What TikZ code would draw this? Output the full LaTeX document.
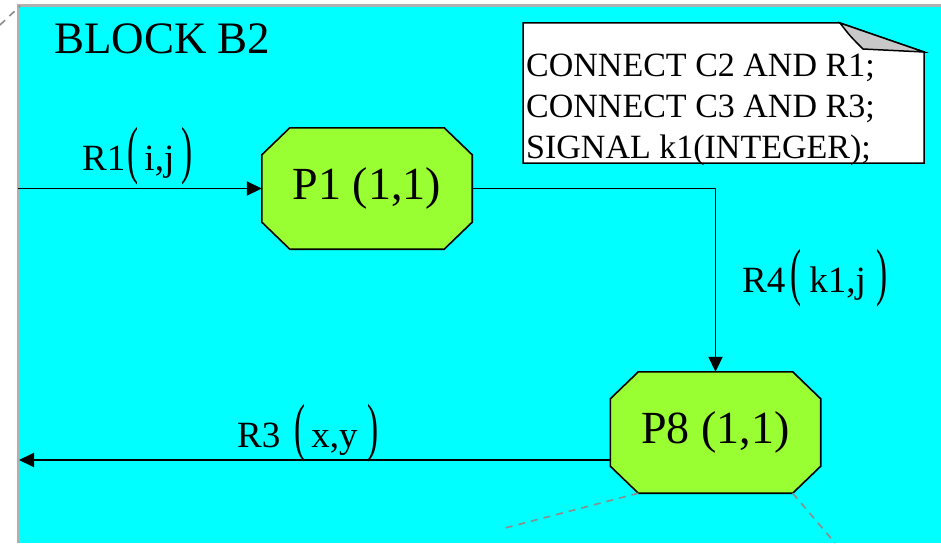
\documentclass[tikz,border=0pt]{standalone}
\usepackage{fontspec}
\setmainfont{Liberation Serif}
\usepackage{graphicx}
\usetikzlibrary{arrows.meta,calc}
\definecolor{bgcyan}{RGB}{0,255,255}
\definecolor{procgreen}{RGB}{153,255,51}
\definecolor{framegray}{RGB}{176,176,176}
\definecolor{dashgray}{RGB}{140,140,140}
\definecolor{foldgray}{RGB}{200,200,200}
\pgfdeclarelayer{bgl}
\pgfsetlayers{bgl,main}
\newcommand{\tallp}[1]{\raisebox{-1.5pt}{\scalebox{0.9}[1.72]{#1}}}
\newcommand{\octagon}[1]{%
  \begin{pgfonlayer}{bgl}
  \filldraw[octa] ($(#1.north west)+(28,0)$) -- ($(#1.north east)+(-28,0)$) -- ($(#1.north east)+(0,27)$)
    -- ($(#1.south east)+(0,-27)$) -- ($(#1.south east)+(-28,0)$) -- ($(#1.south west)+(28,0)$)
    -- ($(#1.south west)+(0,-27)$) -- ($(#1.north west)+(0,27)$) -- cycle;
  \end{pgfonlayer}}
\tikzset{
  proc/.style={rectangle, minimum width=210pt, minimum height=121pt,
    inner sep=0pt, font=\fontsize{46}{50}\selectfont},
  octa/.style={draw=black, line width=1.6pt, fill=procgreen},
  notetxt/.style={anchor=base west, inner sep=0pt, font=\fontsize{34}{40}\selectfont},
  lbl/.style={anchor=base west, inner sep=0pt, font=\fontsize{37}{40}\selectfont},
  flow/.style={line width=1.9pt, -{Triangle[length=15pt,width=14pt]}},
  callout/.style={dashgray, line width=1.6pt, dash pattern=on 7pt off 6pt}
}
\begin{document}
\begin{tikzpicture}[x=1pt,y=-1pt]
\useasboundingbox (0,0) rectangle (941,543);
% background
\begin{pgfonlayer}{bgl}
\fill[bgcyan] (18,5) rectangle (941,543);
\draw[framegray, line width=2.6pt] (18,543) -- (18,5.5) -- (941,5.5);
\end{pgfonlayer}
% top-left callout
\coordinate (tl0) at (0,25);
\coordinate (tl1) at (20,6);
\draw[callout] (tl0) -- (tl1);
% title
\node[anchor=base west, inner sep=0pt, font=\fontsize{45}{50}\selectfont] (title) at (54,53) {BLOCK B2};
% note
\draw[fill=white, line width=1.5pt] (523,23) -- (840,23) -- (924,52) -- (924,163) -- (523,163) -- cycle;
\draw[fill=foldgray, line width=1.5pt] (840,23) .. controls (850,36) .. (863,49) -- (924,52) -- cycle;
\node[notetxt] (n1) at (526,76) {CONNECT C2 AND R1;};
\node[notetxt] (n2) at (526,117) {CONNECT C3 AND R3;};
\node[notetxt] (n3) at (526,158) {SIGNAL k1(INTEGER);};
% processes
\node[proc] (P1) at (367,188.5) {P1 (1,1)};
\octagon{P1}
\node[proc] (P8) at (715.5,432.5) {P8 (1,1)};
\octagon{P8}
% callout lines from P8
\coordinate (c1) at (505,528);
\coordinate (c2) at (835,543);
\draw[callout] ($(P8.south west)+(28,0)$) -- (c1);
\draw[callout] ($(P8.south east)+(-28,0)$) -- (c2);
% signal routes
\coordinate (r1start) at (18,188.5);
\draw[flow] (r1start) -- (P1.west);
\draw[flow] (P1.east) -| (P8.north);
\coordinate (r3end) at (19,460);
\draw[flow] (P8.west |- r3end) -- (r3end);
% labels
\node[lbl] (l1) at (82,170) {R1\hspace{2pt}\tallp{(}\hspace{6pt}i,j\hspace{7pt}\tallp{)}};
\node[lbl] (l4) at (742,292) {R4\hspace{5pt}\tallp{(}\hspace{8pt}k1,j\hspace{10pt}\tallp{)}};
\node[lbl] (l3) at (237,447) {R3\hspace{14pt}\tallp{(}\hspace{6pt}x,y\hspace{10pt}\tallp{)}};
\end{tikzpicture}
\end{document}
